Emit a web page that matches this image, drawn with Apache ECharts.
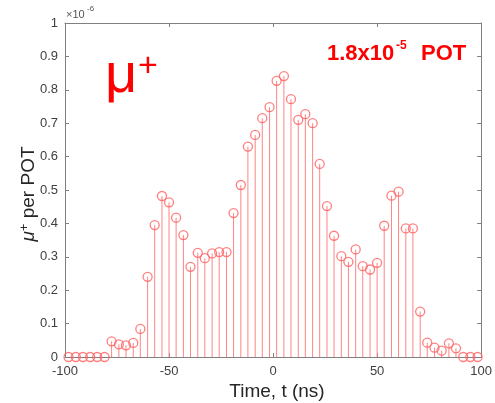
<!DOCTYPE html>
<html>
<head>
<meta charset="utf-8">
<script src="https://cdn.jsdelivr.net/npm/echarts@6/dist/echarts.min.js"></script>
<style>
  html, body { margin: 0; padding: 0; background: #fff; }
  #chart { width: 495px; height: 403px; }
</style>
</head>
<body>
<div id="chart"></div>
<script>
// time bin centres (ns)
const times = [
    -98.3, -94.8, -91.4, -87.9, -84.5, -81.0, -77.6, -74.1, -70.7, -67.2,
    -63.8, -60.3, -56.9, -53.4, -50.0, -46.6, -43.1, -39.7, -36.2, -32.8,
    -29.3, -25.9, -22.4, -19.0, -15.5, -12.1, -8.6, -5.2, -1.7,
    1.7, 5.2, 8.6, 12.1, 15.5, 19.0, 22.4, 25.9, 29.3, 32.8,
    36.2, 39.7, 43.1, 46.6, 50.0, 53.4, 56.9, 60.3, 63.8, 67.2,
    70.7, 74.1, 77.6, 81.0, 84.5, 87.9, 91.4, 94.8, 98.3
]
// mu+ per POT, in units of 1e-6
const muPerPot = [
    0, 0, 0, 0, 0, 0, 0.047, 0.038, 0.035, 0.042,
    0.084, 0.24, 0.395, 0.482, 0.463, 0.417, 0.365, 0.27, 0.312, 0.296,
    0.31, 0.314, 0.314, 0.431, 0.515, 0.63, 0.665, 0.715, 0.748,
    0.827, 0.841, 0.772, 0.71, 0.727, 0.70, 0.578, 0.452, 0.363, 0.302,
    0.285, 0.322, 0.272, 0.262, 0.282, 0.393, 0.483, 0.495, 0.385, 0.385,
    0.136, 0.043, 0.028, 0.019, 0.041, 0.026, 0, 0, 0
]
const xTicks = [-100, -50, 0, 50, 100]
const yTicks = [0, 0.1, 0.2, 0.3, 0.4, 0.5, 0.6, 0.7, 0.8, 0.9, 1]

const points = times.map((t, i) => [t, muPerPot[i]])

const FONT = '"Liberation Sans", Arial, sans-serif'
const labelColor = '#404040'
const frameColor = '#808080'

let chart = echarts.init(document.getElementById('chart'))
let option = {
    animation: false,
    grid: { left: 65, right: 6, top: 23, bottom: 46 },
    xAxis: [
        {
            type: 'value',
            min: xTicks[0],
            max: xTicks[xTicks.length - 1],
            interval: 50,
            axisLine: { onZero: false, lineStyle: { color: frameColor } },
            axisTick: { inside: true, length: 4, lineStyle: { color: frameColor } },
            axisLabel: { color: labelColor, fontSize: 13, fontFamily: FONT, margin: 8 },
            splitLine: { show: false }
        },
        {
            type: 'value',
            position: 'top',
            min: -100, max: 100, interval: 50,
            axisLine: { onZero: false, lineStyle: { color: frameColor } },
            axisTick: { inside: true, length: 4, lineStyle: { color: frameColor } },
            axisLabel: { show: false },
            splitLine: { show: false }
        }
    ],
    yAxis: [
        {
            type: 'value',
            min: yTicks[0],
            max: yTicks[yTicks.length - 1],
            interval: 0.1,
            axisLine: { show: true, onZero: false, lineStyle: { color: frameColor } },
            axisTick: { show: true, inside: true, length: 4, lineStyle: { color: frameColor } },
            axisLabel: { color: labelColor, fontSize: 13, fontFamily: FONT, margin: 7 },
            splitLine: { show: false }
        },
        {
            type: 'value',
            position: 'right',
            min: 0, max: 1, interval: 0.1,
            axisLine: { show: true, onZero: false, lineStyle: { color: frameColor } },
            axisTick: { show: true, inside: true, length: 4, lineStyle: { color: frameColor } },
            axisLabel: { show: false },
            splitLine: { show: false }
        }
    ],
    series: [
        {
            type: 'bar',
            data: points,
            barWidth: 1,
            itemStyle: { color: '#ff8484' },
            silent: true
        },
        {
            type: 'scatter',
            data: points,
            symbol: 'circle',
            symbolSize: 9,
            itemStyle: { color: 'rgba(0,0,0,0)', borderColor: '#ff5f5f', borderWidth: 1.3 },
            z: 3
        }
    ],
    graphic: [
        // x10^-6 exponent
        { type: 'text', x: 66, y: 9, style: { text: '×10', font: '11px ' + FONT, fill: '#555' } },
        { type: 'text', x: 87, y: 5, style: { text: '-6', font: '8px ' + FONT, fill: '#555' } },
        // axis names
        { type: 'text', x: 277, y: 382, style: { text: 'Time, t (ns)', font: '19px ' + FONT, fill: '#262626', textAlign: 'center' } },
        {
            type: 'text', x: 29, y: 194, rotation: Math.PI / 2,
            style: {
                text: '{mu|μ}{sup|+} per POT',
                textAlign: 'center', textVerticalAlign: 'middle',
                rich: {
                    mu: { font: 'italic 19px ' + FONT, fill: '#262626' },
                    sup: { font: '13px ' + FONT, fill: '#262626', padding: [0, 0, 10, 0] }
                },
                font: '19px ' + FONT, fill: '#262626'
            }
        },
        // annotations
        { type: 'text', x: 105, y: 49, style: { text: 'μ', font: '56px ' + FONT, fill: '#ff0000' } },
        { type: 'text', x: 138, y: 50, style: { text: '+', font: '34px ' + FONT, fill: '#ff0000' } },
        { type: 'text', x: 327, y: 43, style: { text: '1.8x10', font: 'bold 22px ' + FONT, fill: '#ff0000' } },
        { type: 'text', x: 396, y: 40, style: { text: '-5', font: 'bold 12px ' + FONT, fill: '#ff0000' } },
        { type: 'text', x: 421, y: 43, style: { text: 'POT', font: 'bold 22px ' + FONT, fill: '#ff0000' } }
    ]
}
chart.setOption(option)
window.addEventListener('resize', () => {
    chart.resize()
})
</script>
</body>
</html>
